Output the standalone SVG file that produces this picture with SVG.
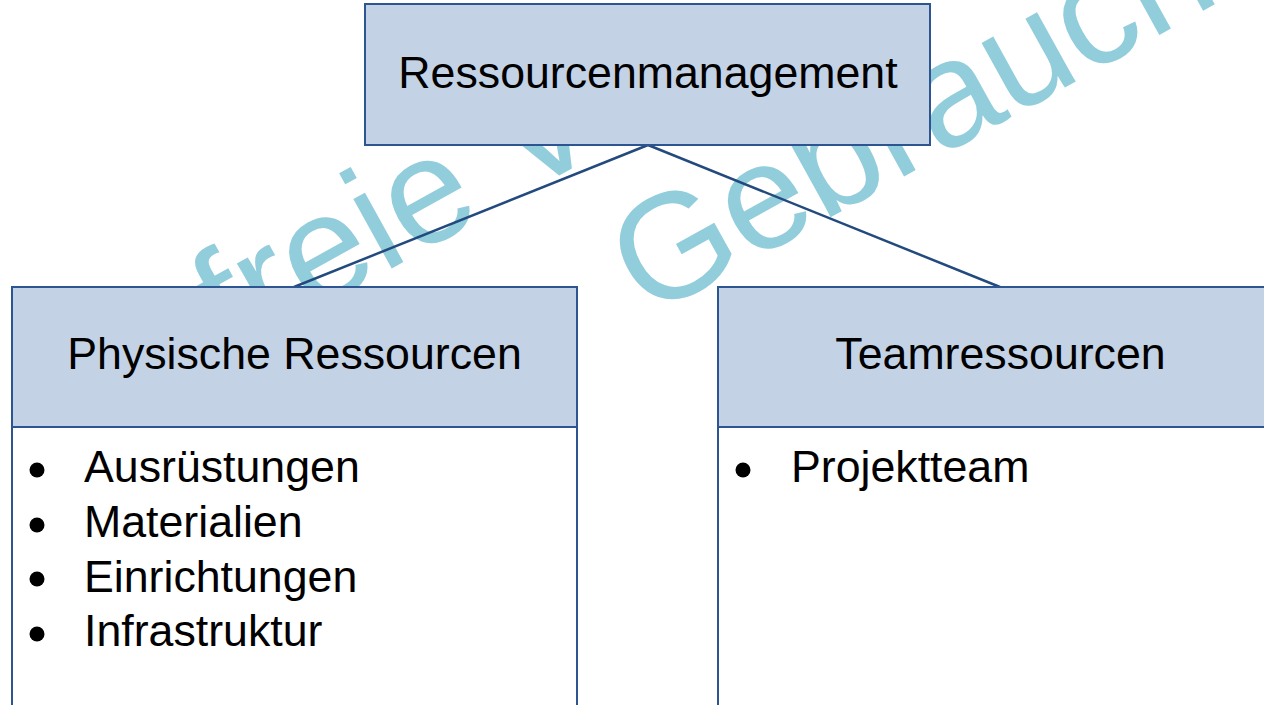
<svg xmlns="http://www.w3.org/2000/svg" width="1264" height="705" viewBox="0 0 1264 705">
  <style>
    .hdr { fill: #C3D3E5; stroke: #2C5591; stroke-width: 2; }
    .body { fill: #FFFFFF; stroke: #2C5591; stroke-width: 2; }
    .title { font-family: "Liberation Sans", Arial, sans-serif; font-size: 44.7px; fill: #000000; text-anchor: middle; }
    .item { font-family: "Liberation Sans", Arial, sans-serif; font-size: 44.7px; fill: #000000; }
    .bullet { fill: #000000; }
    .wm { font-family: "Liberation Sans", Arial, sans-serif; font-size: 150px; fill: #92CDDC; }
    .conn { stroke: #234A7E; stroke-width: 2.5; fill: none; }
  </style>
  <rect width="1264" height="705" fill="#FFFFFF"/>
  <g id="watermark">
    <text class="wm" transform="translate(230,358) rotate(-29)">freie V</text>
    <text class="wm" transform="translate(647,319) rotate(-29)">Gebrauch</text>
  </g>
  <g id="connectors">
    <line class="conn" x1="648" y1="145" x2="294" y2="287"/>
    <line class="conn" x1="648" y1="145" x2="1000" y2="287"/>
  </g>
  <g id="node-ressourcenmanagement">
    <rect class="hdr" x="365" y="4" width="565" height="141"/>
    <text class="title" x="648" y="88">Ressourcenmanagement</text>
  </g>
  <g id="node-physische-ressourcen">
    <rect class="body" x="12" y="427" width="565" height="300"/>
    <rect class="hdr" x="12" y="287" width="565" height="140"/>
    <text class="title" x="294.5" y="369">Physische Ressourcen</text>
    <circle class="bullet" cx="37" cy="470" r="7.5"/>
    <circle class="bullet" cx="37" cy="525" r="7.5"/>
    <circle class="bullet" cx="37" cy="579" r="7.5"/>
    <circle class="bullet" cx="37" cy="634" r="7.5"/>
    <text class="item" x="84" y="482">Ausrüstungen</text>
    <text class="item" x="84" y="537">Materialien</text>
    <text class="item" x="84" y="592">Einrichtungen</text>
    <text class="item" x="84" y="646">Infrastruktur</text>
  </g>
  <g id="node-teamressourcen">
    <rect class="body" x="718" y="427" width="565" height="300"/>
    <rect class="hdr" x="718" y="287" width="565" height="140"/>
    <text class="title" x="1000.5" y="369">Teamressourcen</text>
    <circle class="bullet" cx="743" cy="470" r="7.5"/>
    <text class="item" x="791" y="482">Projektteam</text>
  </g>
</svg>
